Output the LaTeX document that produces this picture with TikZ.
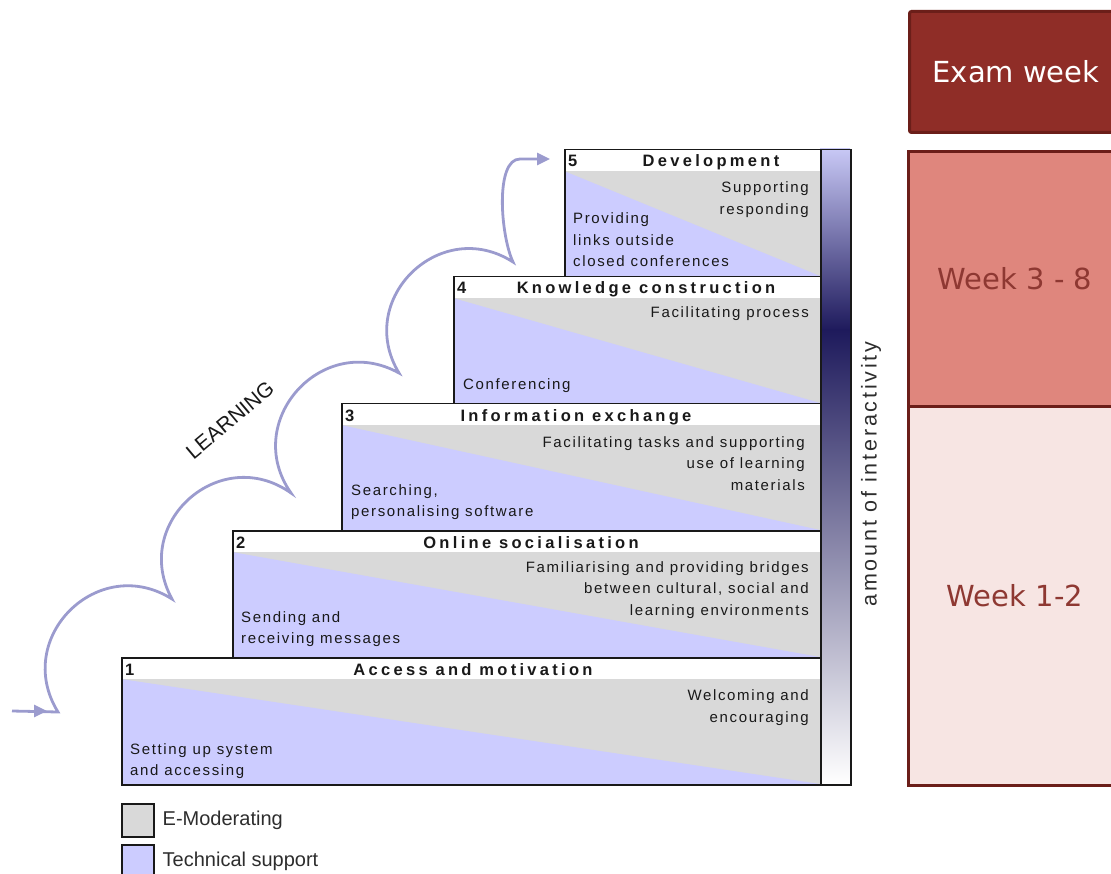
\documentclass[tikz,border=0pt]{standalone}
\usepackage{fontspec}
\setmainfont{Liberation Sans}
\newfontfamily\stepfont[LetterSpace=11]{Liberation Sans}
\newfontfamily\headfont[LetterSpace=20]{Liberation Sans}
\newfontfamily\sidefont[LetterSpace=13]{Liberation Sans}
\newfontfamily\weekfont{DejaVu Sans}
\usetikzlibrary{arrows.meta}
\definecolor{emod}{RGB}{217,217,217}
\definecolor{tech}{RGB}{204,204,255}
\definecolor{learncol}{RGB}{155,155,206}
\definecolor{navy}{RGB}{30,26,92}
\definecolor{lav}{RGB}{200,200,245}
\definecolor{examfill}{RGB}{143,45,39}
\definecolor{midfill}{RGB}{223,134,125}
\definecolor{lowfill}{RGB}{247,229,227}
\definecolor{weekline}{RGB}{107,30,25}
\definecolor{weektext}{RGB}{142,56,50}
\definecolor{ink}{RGB}{25,25,25}
\definecolor{legink}{RGB}{45,45,45}
\newcommand{\stepfill}[2]{%
  \fill[emod] (#1,-#2-22) rectangle (820,-#2-127);
  \fill[tech] (#1,-#2-22) -- (820,-#2-127) -- (#1,-#2-127) -- cycle;
  \fill[white] (#1,-#2) rectangle (820,-#2-22);
}
\begin{document}
\begin{tikzpicture}[x=1pt,y=1pt,
  stepframe/.style={draw=ink, line width=1.5pt, inner sep=0pt, anchor=north west, minimum height=127pt},
  steptext/.style={font=\stepfont\fontsize{15}{21.5}\selectfont, text=ink, inner sep=0pt},
  headtext/.style={font=\headfont\bfseries\fontsize{16.5}{20}\selectfont, text=ink, inner sep=0pt},
  weekbox/.style={draw=weekline, line width=3pt, anchor=north west, inner sep=0pt, minimum width=213pt, font=\weekfont\fontsize{29}{34}\selectfont},
  legbox/.style={draw=ink, line width=1.5pt, anchor=north west, inner sep=0pt, minimum width=32pt, minimum height=33pt},
  legtext/.style={font=\fontsize{20}{24}\selectfont, text=legink, inner sep=0pt, anchor=west},
  learnline/.style={draw=learncol, line width=2.8pt},
  scallop/.style={bend left=77, looseness=1.39}
]
\useasboundingbox (0,0) rectangle (1111,-874);
\clip (0,0) rectangle (1111,-874);

% ---- step fills ----
\stepfill{121}{657}
\stepfill{232}{530}
\stepfill{341}{403}
\stepfill{453}{276}
\stepfill{564}{149}

% ---- step frames ----
\node[stepframe, minimum width=699pt] (s1) at (121,-657) {};
\node[stepframe, minimum width=588pt] (s2) at (232,-530) {};
\node[stepframe, minimum width=479pt] (s3) at (341,-403) {};
\node[stepframe, minimum width=367pt] (s4) at (453,-276) {};
\node[stepframe, minimum width=256pt] (s5) at (564,-149) {};

% ---- headers ----
\node[headtext, anchor=base west] (n1) at (125,-675) {1};
\node[headtext, anchor=base] (t1) at (473,-675) {Access and motivation};
\node[headtext, anchor=base west] (n2) at (236,-548) {2};
\node[headtext, anchor=base] (t2) at (531,-548) {Online socialisation};
\node[headtext, anchor=base west] (n3) at (345,-421) {3};
\node[headtext, anchor=base] (t3) at (576,-421) {Information exchange};
\node[headtext, anchor=base west] (n4) at (457,-294) {4};
\node[headtext, anchor=base] (t4) at (646,-294) {Knowledge construction};
\node[headtext, anchor=base west] (n5) at (568,-167) {5};
\node[headtext, anchor=base] (t5) at (711,-167) {Development};

% ---- E-moderating texts (right); base = last line ----
\node[steptext, align=right, anchor=base east] (r1) at (809,-722) {Welcoming and\\encouraging};
\node[steptext, align=right, anchor=base east] (r2) at (809,-615) {Familiarising and providing bridges\\between cultural, social and\\learning environments};
\node[steptext, align=right, anchor=base east] (r3) at (805,-490) {Facilitating tasks and supporting\\use of learning\\materials};
\node[steptext, align=right, anchor=base east] (r4) at (809,-318) {Facilitating process};
\node[steptext, align=right, anchor=base east] (r5) at (809,-214.5) {Supporting\\responding};

% ---- technical support texts (left); base = last line ----
\node[steptext, align=left, anchor=base west] (l1) at (130,-775.5) {Setting up system\\and accessing};
\node[steptext, align=left, anchor=base west] (l2) at (241,-643.5) {Sending and\\receiving messages};
\node[steptext, align=left, anchor=base west] (l3) at (351,-516.5) {Searching,\\personalising software};
\node[steptext, align=left, anchor=base west] (l4) at (463,-389) {Conferencing};
\node[steptext, align=left, anchor=base west] (l5) at (573,-267) {Providing\\links outside\\closed conferences};

% ---- interactivity bar ----
\shade[top color=lav, bottom color=navy] (820,-149) rectangle (850,-330);
\shade[top color=navy, bottom color=white] (820,-330) rectangle (850,-784);
\node[draw=ink, line width=1.5pt, anchor=north west, inner sep=0pt, minimum width=30pt, minimum height=635pt] (bar) at (820,-149) {};
\node[rotate=90, font=\sidefont\fontsize{21.5}{24}\selectfont, text=legink, inner sep=0pt] (amt) at (871,-474) {amount of interactivity};

% ---- week boxes ----
\node[weekbox, fill=examfill, text=white, minimum height=121pt, rounded corners=2pt] (exam) at (908,-10) {Exam week};
\node[weekbox, fill=midfill, text=weektext, minimum height=255pt] (w38) at (907,-150) {Week 3 - 8};
\node[weekbox, fill=lowfill, text=weektext, minimum height=379pt] (w12) at (907,-405) {Week 1-2};

% ---- legend ----
\node[legbox, fill=emod] (lg1) at (121,-803) {};
\node[legbox, fill=tech] (lg2) at (121,-844) {};
\node[legtext] (lt1) at ([xshift=8pt]lg1.east) {E-Moderating};
\node[legtext] (lt2) at ([xshift=8pt]lg2.east) {Technical support};

% ---- learning curve ----
\coordinate (c0) at (12,-711);
\coordinate (ctip) at (47,-711);
\coordinate (cA) at (58,-712);
\coordinate (cB) at (172,-599);
\coordinate (cC) at (291,-493);
\coordinate (cD) at (399,-373);
\coordinate (cE) at (513,-262);
\coordinate (cF) at (520,-159);
\coordinate (cG) at (550,-159);
\draw[learnline] (c0) -- (cA) to[scallop] (cB) to[scallop] (cC) to[scallop] (cD) to[scallop] (cE)
  to[out=115, in=180, out distance=30pt, in distance=25pt] (cF) -- ([xshift=-8pt]cG);
\draw[learnline, -{Triangle[length=13pt,width=12pt]}] (c0) -- (ctip);
\draw[learnline, -{Triangle[length=13pt,width=12pt]}] (cF) -- (cG);
\node[rotate=40, font=\fontsize{21}{24}\selectfont, text=ink, inner sep=0pt] (learn) at (230,-420) {LEARNING};
\end{tikzpicture}
\end{document}
